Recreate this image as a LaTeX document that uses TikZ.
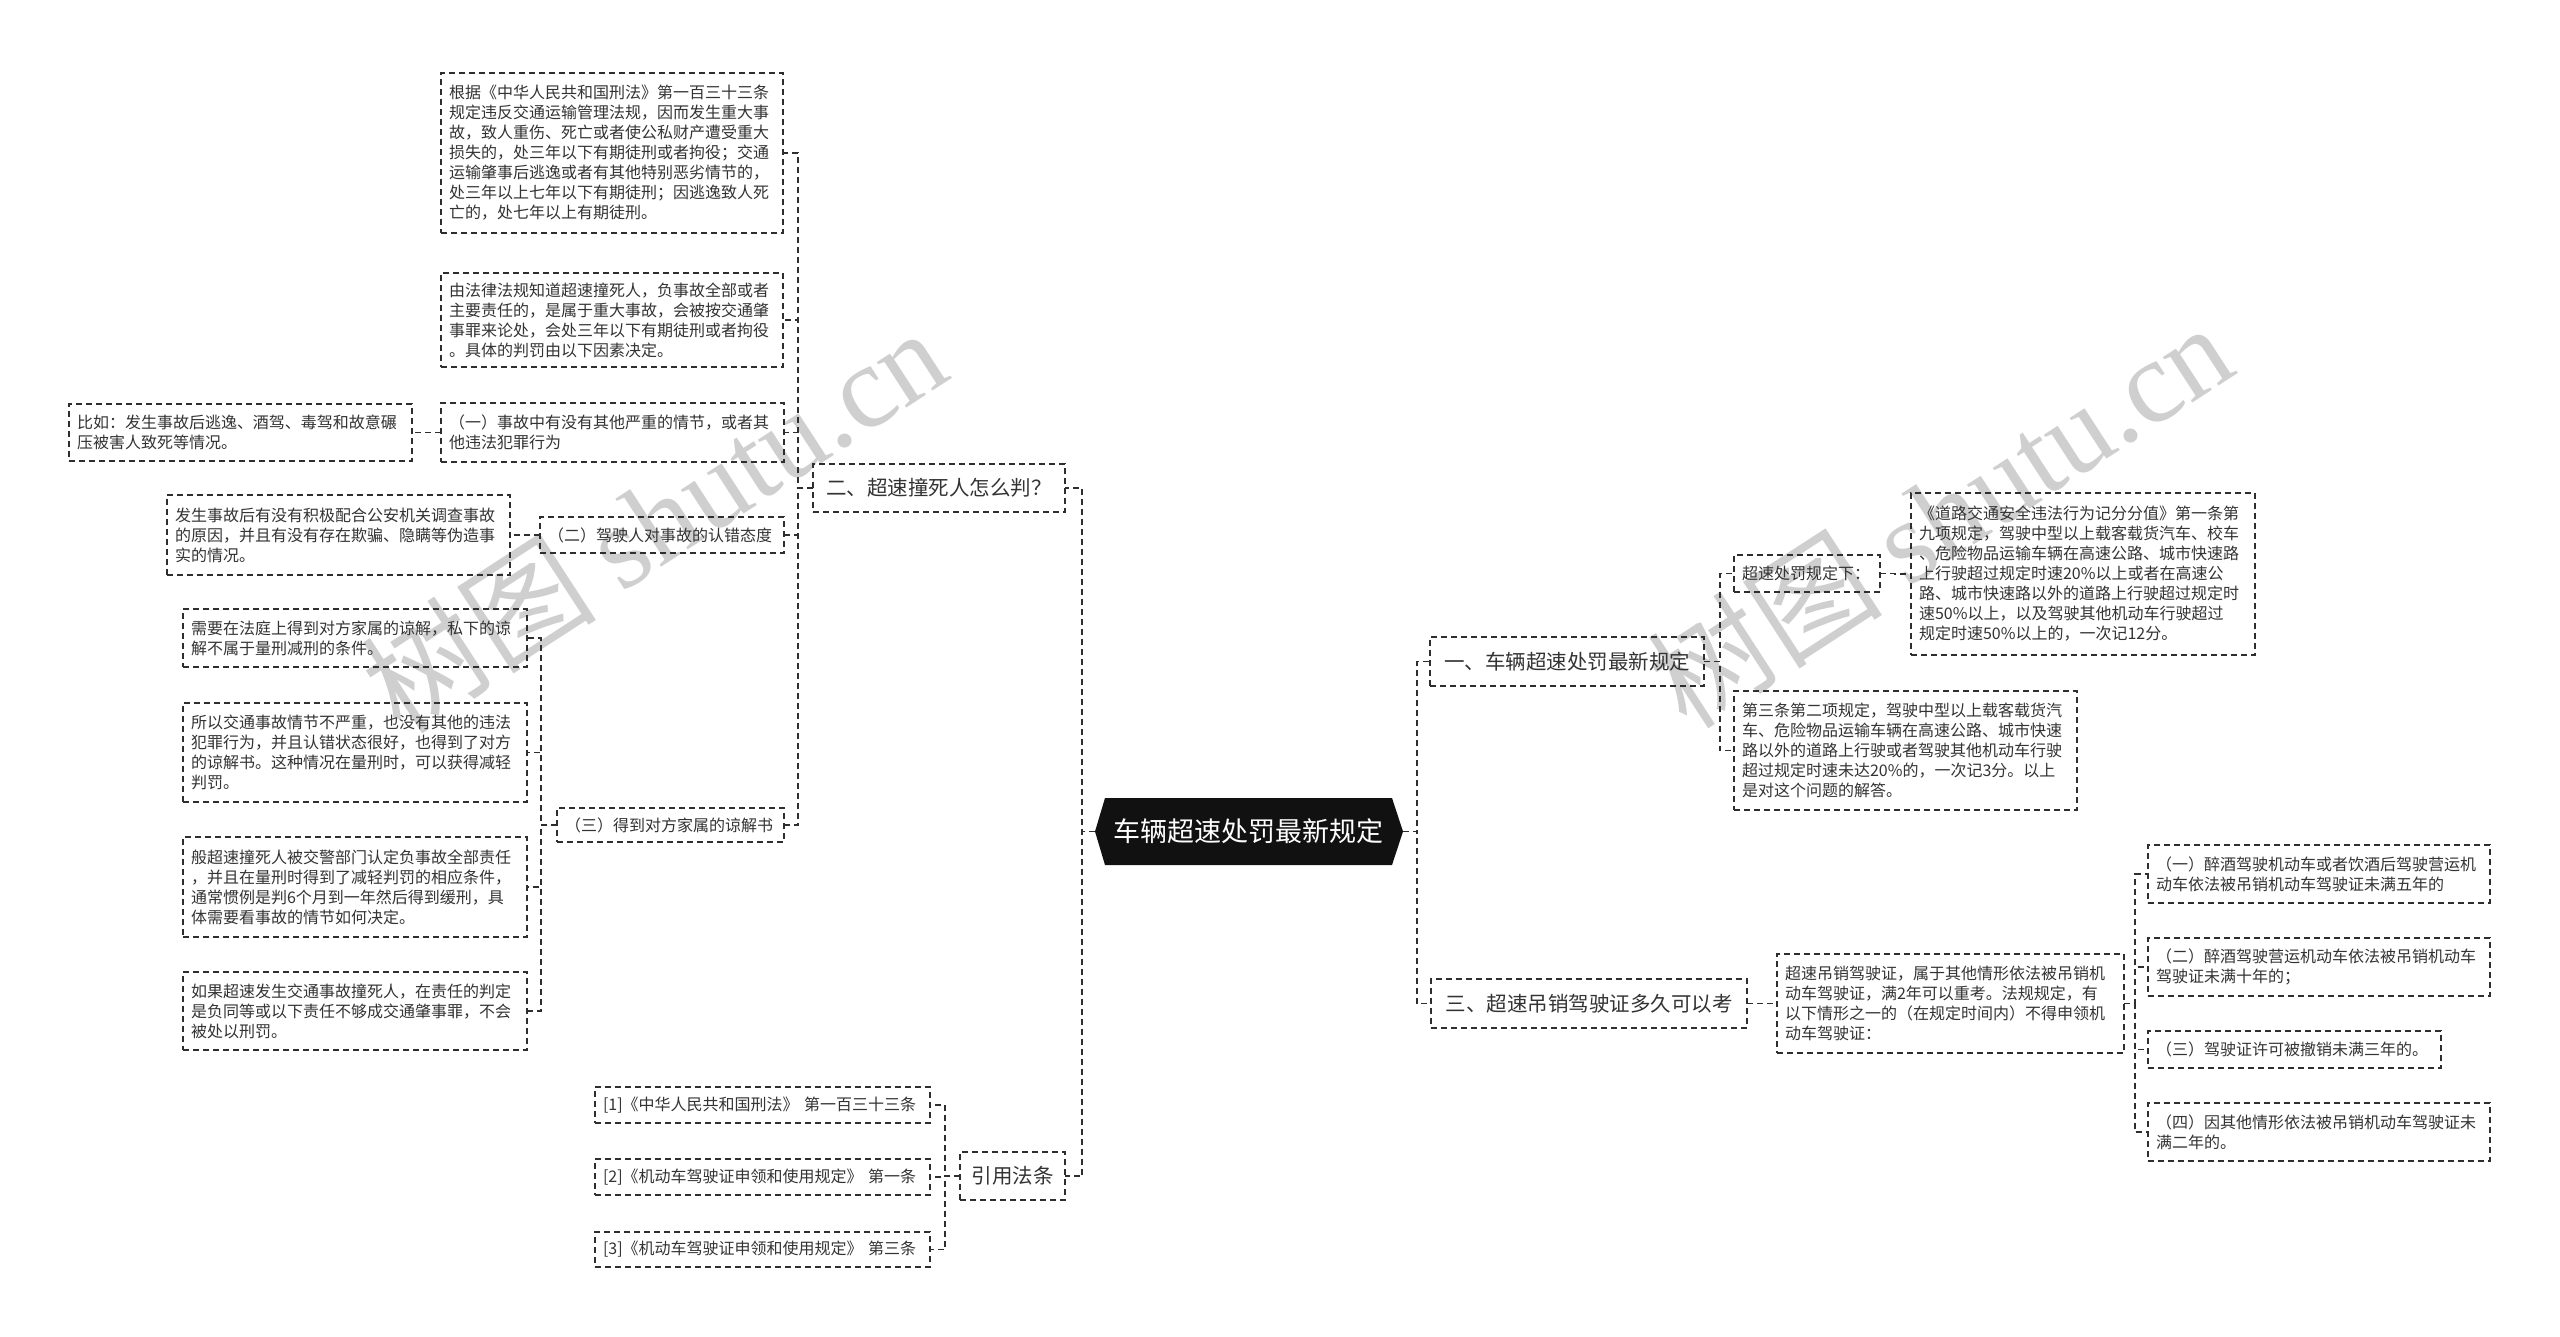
\documentclass[tikz,border=0pt]{standalone}
\usepackage{fontspec}
\setmainfont{Noto Sans CJK SC}
\newfontfamily\wmlatin{Liberation Serif}
\usetikzlibrary{calc,backgrounds}
\definecolor{lc}{HTML}{2E2E2E}
\definecolor{tc}{HTML}{333333}
\definecolor{wmc}{HTML}{CFCFCF}
\definecolor{rootfill}{HTML}{111111}
\tikzset{
 leaf/.style={draw=lc, line width=1.4pt, dash pattern=on 6pt off 4pt, text=tc, align=left,
   inner xsep=8pt, inner ysep=0pt, outer sep=0pt, font=\fontsize{16}{20}\selectfont},
 topic/.style={leaf, align=center, font=\fontsize{20.5}{24}\selectfont},
 rootsty/.style={text=white, align=center, inner xsep=8pt, inner ysep=0pt, outer sep=0pt,
   font=\fontsize{27}{32}\selectfont},
 conn/.style={draw=lc, line width=1.4pt, dash pattern=on 6pt off 4pt},
 wm/.style={text=wmc, font=\fontsize{118}{130}\selectfont, inner sep=0pt},
}
\newcommand\bx[7]{%
 \pgfmathsetmacro\bw{#4-#2}\pgfmathsetmacro\bh{#5-#3}%
 \pgfmathsetmacro\bcx{(#2+#4)/2}\pgfmathsetmacro\bcy{(#3+#5)/2}%
 \pgfmathsetmacro\btw{#4-#2-16}%
 \node[#6, minimum width=\bw pt, minimum height=\bh pt, text width=\btw pt] (#1) at (\bcx pt,-\bcy pt) {#7};}
\begin{document}
\begin{tikzpicture}
\useasboundingbox (0,0) rectangle (2560pt,-1337pt);
% root
\bx{root}{1105}{798}{1392}{865}{rootsty}{车辆超速处罚最新规定}
\coordinate (rootL) at ($(root.west)+(-10pt,0)$);
\coordinate (rootR) at ($(root.east)+(11pt,0)$);
\begin{pgfonlayer}{background}
\fill[white] (0,0) rectangle (2560pt,-1337pt);
\node[wm, rotate=33] (wm1) at (653pt,-519pt) {树图 {\wmlatin shutu.cn}};
\node[wm, rotate=33] (wm2) at (1939pt,-514pt) {树图 {\wmlatin shutu.cn}};
\fill[rootfill] (root.north west) -- (root.north east) -- (rootR) -- (root.south east)
  -- (root.south west) -- (rootL) -- cycle;
\end{pgfonlayer}
% level 1
\bx{two}{813}{464}{1065}{512}{topic}{二、超速撞死人怎么判？}
\bx{cite}{960}{1152}{1065}{1200}{topic}{引用法条}
\bx{one}{1430}{637}{1704}{686}{topic}{一、车辆超速处罚最新规定}
\bx{three}{1431}{979}{1747}{1028}{topic}{三、超速吊销驾驶证多久可以考}
% left children
\bx{la}{441}{73}{783}{233}{leaf}{根据《中华人民共和国刑法》第一百三十三条\\规定违反交通运输管理法规，因而发生重大事\\故，致人重伤、死亡或者使公私财产遭受重大\\损失的，处三年以下有期徒刑或者拘役；交通\\运输肇事后逃逸或者有其他特别恶劣情节的，\\处三年以上七年以下有期徒刑；因逃逸致人死\\亡的，处七年以上有期徒刑。}
\bx{lb}{441}{273}{783}{367}{leaf}{由法律法规知道超速撞死人，负事故全部或者\\主要责任的，是属于重大事故，会被按交通肇\\事罪来论处，会处三年以下有期徒刑或者拘役\\。具体的判罚由以下因素决定。}
\bx{p1}{441}{403}{784}{462}{leaf}{（一）事故中有没有其他严重的情节，或者其\\他违法犯罪行为}
\bx{e1}{69}{404}{412}{461}{leaf}{比如：发生事故后逃逸、酒驾、毒驾和故意碾\\压被害人致死等情况。}
\bx{p2}{540}{517}{784}{553}{leaf}{（二）驾驶人对事故的认错态度}
\bx{e2}{167}{495}{510}{575}{leaf}{发生事故后有没有积极配合公安机关调查事故\\的原因，并且有没有存在欺骗、隐瞒等伪造事\\实的情况。}
\bx{p3}{557}{808}{784}{842}{leaf}{（三）得到对方家属的谅解书}
\bx{qa}{183}{609}{527}{667}{leaf}{需要在法庭上得到对方家属的谅解，私下的谅\\解不属于量刑减刑的条件。}
\bx{qb}{183}{703}{527}{802}{leaf}{所以交通事故情节不严重，也没有其他的违法\\犯罪行为，并且认错状态很好，也得到了对方\\的谅解书。这种情况在量刑时，可以获得减轻\\判罚。}
\bx{qc}{183}{837}{527}{937}{leaf}{般超速撞死人被交警部门认定负事故全部责任\\，并且在量刑时得到了减轻判罚的相应条件，\\通常惯例是判6个月到一年然后得到缓刑，具\\体需要看事故的情节如何决定。}
\bx{qd}{183}{972}{527}{1050}{leaf}{如果超速发生交通事故撞死人，在责任的判定\\是负同等或以下责任不够成交通肇事罪，不会\\被处以刑罚。}
\bx{c1}{595}{1087}{930}{1123}{leaf}{[1]《中华人民共和国刑法》 第一百三十三条}
\bx{c2}{595}{1159}{930}{1195}{leaf}{[2]《机动车驾驶证申领和使用规定》 第一条}
\bx{c3}{595}{1232}{930}{1267}{leaf}{[3]《机动车驾驶证申领和使用规定》 第三条}
% right children
\bx{r1}{1734}{555}{1880}{592}{leaf}{超速处罚规定下：}
\bx{r1a}{1911}{493}{2255}{655}{leaf}{《道路交通安全违法行为记分分值》第一条第\\九项规定，驾驶中型以上载客载货汽车、校车\\、危险物品运输车辆在高速公路、城市快速路\\上行驶超过规定时速20\%以上或者在高速公\\路、城市快速路以外的道路上行驶超过规定时\\速50\%以上，以及驾驶其他机动车行驶超过\\规定时速50\%以上的，一次记12分。}
\bx{r2}{1734}{691}{2077}{810}{leaf}{第三条第二项规定，驾驶中型以上载客载货汽\\车、危险物品运输车辆在高速公路、城市快速\\路以外的道路上行驶或者驾驶其他机动车行驶\\超过规定时速未达20\%的，一次记3分。以上\\是对这个问题的解答。}
\bx{r3}{1777}{954}{2124}{1053}{leaf}{超速吊销驾驶证，属于其他情形依法被吊销机\\动车驾驶证，满2年可以重考。法规规定，有\\以下情形之一的（在规定时间内）不得申领机\\动车驾驶证：}
\bx{s1}{2148}{845}{2490}{903}{leaf}{（一）醉酒驾驶机动车或者饮酒后驾驶营运机\\动车依法被吊销机动车驾驶证未满五年的}
\bx{s2}{2148}{938}{2490}{996}{leaf}{（二）醉酒驾驶营运机动车依法被吊销机动车\\驾驶证未满十年的；}
\bx{s3}{2148}{1031}{2441}{1068}{leaf}{（三）驾驶证许可被撤销未满三年的。}
\bx{s4}{2148}{1103}{2490}{1161}{leaf}{（四）因其他情形依法被吊销机动车驾驶证未\\满二年的。}
% connectors
\foreach \c in {two,cite} \draw[conn] (rootL) -- ++(-13pt,0) |- (\c.east);
\foreach \c in {one,three} \draw[conn] (rootR) -- ++(14pt,0) |- (\c.west);
\foreach \c in {la,lb,p1,p2,p3} \draw[conn] (two.west) -- ++(-15pt,0) |- (\c.east);
\draw[conn] (p1.west) -- ++(-15pt,0) |- (e1.east);
\draw[conn] (p2.west) -- ++(-15pt,0) |- (e2.east);
\foreach \c in {qa,qb,qc,qd} \draw[conn] (p3.west) -- ++(-16pt,0) |- (\c.east);
\foreach \c in {c1,c2,c3} \draw[conn] (cite.west) -- ++(-15pt,0) |- (\c.east);
\foreach \c in {r1,r2} \draw[conn] (one.east) -- ++(16pt,0) |- (\c.west);
\draw[conn] (r1.east) -- ++(15pt,0) |- (r1a.west);
\draw[conn] (three.east) -- ++(15pt,0) |- (r3.west);
\foreach \c in {s1,s2,s3,s4} \draw[conn] (r3.east) -- ++(11pt,0) |- (\c.west);
\end{tikzpicture}
\end{document}
